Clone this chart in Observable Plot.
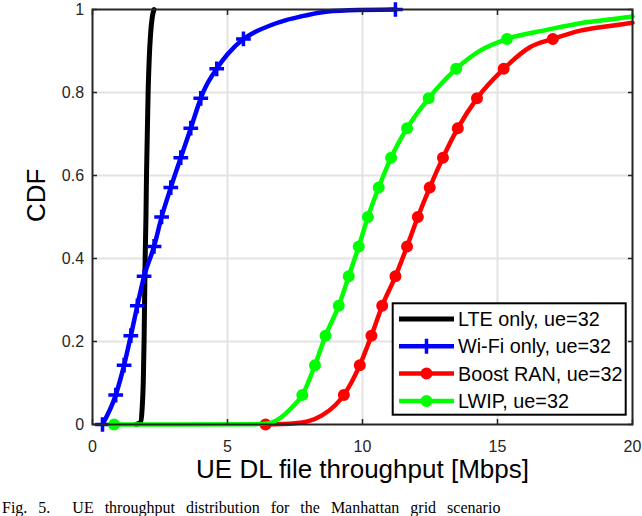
<!DOCTYPE html>
<html>
<head>
<meta charset="utf-8">
<script src="https://cdn.jsdelivr.net/npm/d3@7"></script>
<script src="https://cdn.jsdelivr.net/npm/@observablehq/plot@0.6"></script>
<style>
  html, body { margin: 0; padding: 0; background: #fff; overflow: hidden; }
  #wrap { width: 642px; height: 516px; overflow: hidden; position: relative; }
  #caption { font-family: "Liberation Serif", "Times New Roman", serif; font-size: 16px; line-height: 16px; white-space: nowrap; padding-left: 2px; word-spacing: 7px; color: #000; }
</style>
</head>
<body>
<div id="wrap"><div id="chart"></div><div id="caption">Fig. 5.&nbsp; UE throughput distribution for the Manhattan grid scenario</div></div>
<script>
// ---- data ----
const seriesNames = ["LTE only, ue=32", "Wi-Fi only, ue=32", "Boost RAN, ue=32", "LWIP, ue=32"];
const seriesColors = ["#000000", "#0000ff", "#ff0000", "#00ff00"];
const seriesMarkers = ["none", "plus", "circle", "circle"];

// LTE only (curve, no markers)
const lteX = [1.62, 1.78, 1.84, 1.88, 1.91, 1.93, 1.95, 1.98, 2.0, 2.03, 2.06, 2.1, 2.15, 2.21, 2.28];
const lteY = [0, 0.005, 0.04, 0.1, 0.2, 0.3, 0.4, 0.5, 0.6, 0.7, 0.8, 0.88, 0.94, 0.98, 1.0];

// Wi-Fi only: marker positions and full curve
const wifiMarkX = [0.37, 0.86, 1.17, 1.42, 1.66, 1.91, 2.28, 2.56, 2.90, 3.27, 3.64, 4.01, 4.6, 5.59, 11.22];
const wifiMarkY = [0, 0.071, 0.143, 0.214, 0.286, 0.357, 0.429, 0.5, 0.571, 0.643, 0.714, 0.786, 0.857, 0.929, 1.0];
const wifiX = [0.37, 0.86, 1.17, 1.42, 1.66, 1.91, 2.28, 2.56, 2.90, 3.27, 3.64, 4.01, 4.13, 4.6, 5.0, 5.59, 6.0, 6.6, 7.2, 7.7, 8.45, 9.5, 11.22];
const wifiY = [0, 0.071, 0.143, 0.214, 0.286, 0.357, 0.429, 0.5, 0.571, 0.643, 0.714, 0.786, 0.805, 0.857, 0.892, 0.929, 0.945, 0.962, 0.975, 0.983, 0.993, 0.998, 1.0];

// Boost RAN
const boostMarkX = [6.41, 9.31, 9.90, 10.33, 10.73, 11.22, 11.65, 12.05, 12.49, 12.98, 13.53, 14.24, 15.23, 17.05];
const boostMarkY = [0, 0.071, 0.143, 0.214, 0.286, 0.357, 0.429, 0.5, 0.571, 0.643, 0.714, 0.786, 0.857, 0.929];
const boostX = [6.41, 7.0, 7.5, 8.0, 8.5, 9.0, 9.31, 9.90, 10.33, 10.73, 11.22, 11.65, 12.05, 12.49, 12.98, 13.53, 14.24, 15.23, 16.2, 17.05, 18.07, 19.3, 20];
const boostY = [0, 0.001, 0.003, 0.008, 0.022, 0.047, 0.071, 0.143, 0.214, 0.286, 0.357, 0.429, 0.5, 0.571, 0.643, 0.714, 0.786, 0.857, 0.909, 0.929, 0.949, 0.9615, 0.968];

// LWIP
const lwipMarkX = [0.8, 7.77, 8.24, 8.63, 9.12, 9.49, 9.86, 10.2, 10.6, 11.06, 11.65, 12.45, 13.47, 15.35];
const lwipMarkY = [0, 0.071, 0.143, 0.214, 0.286, 0.357, 0.429, 0.5, 0.571, 0.643, 0.714, 0.786, 0.857, 0.929];
const lwipX = [0.8, 3.0, 6.0, 6.6, 7.0, 7.4, 7.77, 8.24, 8.63, 9.12, 9.49, 9.86, 10.2, 10.6, 11.06, 11.65, 12.45, 13.47, 14.37, 15.35, 16.83, 18.07, 19.3, 20];
const lwipY = [0, 0, 0.0005, 0.004, 0.018, 0.042, 0.071, 0.143, 0.214, 0.286, 0.357, 0.429, 0.5, 0.571, 0.643, 0.714, 0.786, 0.857, 0.9015, 0.929, 0.951, 0.967, 0.977, 0.983];

const xTicks = [0, 5, 10, 15, 20];
const yTicks = [0, 0.2, 0.4, 0.6, 0.8, 1];
const xLabel = "UE DL file throughput [Mbps]";
const yLabel = "CDF";

// ---- build tables ----
const toRows = (xs, ys, s) => xs.map((x, i) => ({x, y: ys[i], s}));
const curves = [
  toRows(lteX, lteY, 0),
  toRows(wifiX, wifiY, 1),
  toRows(boostX, boostY, 2),
  toRows(lwipX, lwipY, 3)
];
const marks = [
  [],
  toRows(wifiMarkX, wifiMarkY, 1),
  toRows(boostMarkX, boostMarkY, 2),
  toRows(lwipMarkX, lwipMarkY, 3)
];

const axisColor = "#262626";
const font = "'Liberation Sans', Arial, Helvetica, sans-serif";

const layerMarks = [];
for (let s = 0; s < 4; s++) {
  layerMarks.push(Plot.line(curves[s], {x: "x", y: "y", stroke: seriesColors[s], strokeWidth: s === 0 ? 5 : 4.5, curve: "monotone-x"}));
  if (seriesMarkers[s] === "plus") {
    layerMarks.push(Plot.dot(marks[s], {x: "x", y: "y", symbol: "plus", r: 4.8, stroke: seriesColors[s], strokeWidth: 3.5}));
  } else if (seriesMarkers[s] === "circle") {
    layerMarks.push(Plot.dot(marks[s], {x: "x", y: "y", r: 5, fill: seriesColors[s], stroke: seriesColors[s], strokeWidth: 2}));
  }
}

const chart = Plot.plot({
  width: 642,
  height: 500,
  marginLeft: 92,
  marginRight: 10,
  marginTop: 9,
  marginBottom: 76,
  style: {fontFamily: font, background: "#fff", overflow: "visible"},
  x: {domain: [0, 20]},
  y: {domain: [0, 1]},
  marks: [
    Plot.gridX(xTicks.slice(1, -1), {stroke: "#e3e3e3", strokeOpacity: 1, strokeWidth: 2}),
    Plot.gridY(yTicks.slice(1, -1), {stroke: "#e3e3e3", strokeOpacity: 1, strokeWidth: 2}),
    ...layerMarks,
    Plot.frame({stroke: axisColor, strokeWidth: 2}),
    Plot.axisX(xTicks, {anchor: "bottom", tickSize: -5, tickPadding: 21, fontSize: 16, color: axisColor, strokeWidth: 1.5, label: null, tickFormat: d => String(d)}),
    Plot.axisX(xTicks, {anchor: "top", tickSize: -5, color: axisColor, strokeWidth: 1.5, label: null, tickFormat: () => ""}),
    Plot.axisY(yTicks, {anchor: "left", tickSize: -5, tickPadding: 13.4, fontSize: 16, color: axisColor, strokeWidth: 1.5, label: null, tickFormat: d => String(d)}),
    Plot.axisY(yTicks, {anchor: "right", tickSize: -5, color: axisColor, strokeWidth: 1.5, label: null, tickFormat: () => ""}),
    Plot.text([xLabel], {frameAnchor: "bottom", dy: 53, fontSize: 26, fill: "#000", text: d => d}),
    Plot.text([yLabel], {frameAnchor: "left", dx: -56, dy: 5, rotate: -90, fontSize: 26, fill: "#000", text: d => d})
  ]
});

// ---- legend (inside plot area, lower right) ----
const svg = d3.select(chart);
const lg = svg.append("g").attr("font-family", font).attr("font-size", 19.8).attr("text-anchor", "start");
lg.append("rect").attr("x", 392.7).attr("y", 303.3).attr("width", 233).attr("height", 111.4)
  .attr("fill", "#fff").attr("stroke", "#000").attr("stroke-width", 2);
seriesNames.forEach((name, i) => {
  const cy = 319 + i * 27.3;
  const g = lg.append("g");
  g.append("line").attr("x1", 399).attr("x2", 454).attr("y1", cy).attr("y2", cy)
    .attr("stroke", seriesColors[i]).attr("stroke-width", i === 0 ? 5 : 4.5);
  if (seriesMarkers[i] === "plus") {
    g.append("path").attr("d", `M${426.5 - 7.5},${cy}h15M426.5,${cy - 7.5}v15`)
      .attr("stroke", seriesColors[i]).attr("stroke-width", 3.5).attr("fill", "none");
  } else if (seriesMarkers[i] === "circle") {
    g.append("circle").attr("cx", 426.5).attr("cy", cy).attr("r", 5)
      .attr("fill", seriesColors[i]).attr("stroke", seriesColors[i]).attr("stroke-width", 2);
  }
  g.append("text").attr("x", 458).attr("y", cy).attr("dy", "0.35em").attr("text-anchor", "start").attr("fill", "#000").text(name);
});

document.getElementById("chart").appendChild(chart);
</script>
</body>
</html>
